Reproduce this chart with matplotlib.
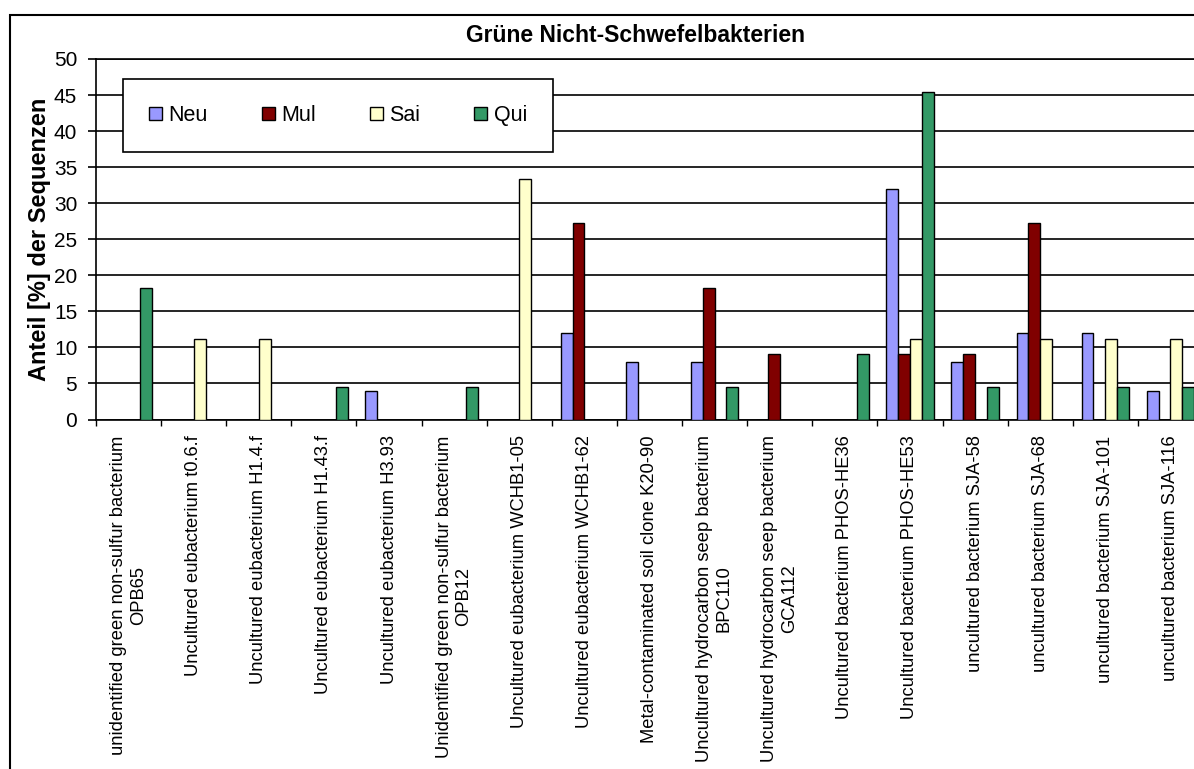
import numpy as np
import matplotlib
matplotlib.use("Agg")
import matplotlib.pyplot as plt
from matplotlib.patches import Patch, Rectangle

plt.rcParams['font.family'] = ['Liberation Sans', 'DejaVu Sans']

# clone names on the x axis
clones = [
    "unidentified green non-sulfur bacterium\nOPB65",
    "Uncultured eubacterium t0.6.f",
    "Uncultured eubacterium H1.4.f",
    "Uncultured eubacterium H1.43.f",
    "Uncultured eubacterium H3.93",
    "Unidentified green non-sulfur bacterium\nOPB12",
    "Uncultured eubacterium WCHB1-05",
    "Uncultured eubacterium WCHB1-62",
    "Metal-contaminated soil clone K20-90",
    "Uncultured hydrocarbon seep bacterium\nBPC110",
    "Uncultured hydrocarbon seep bacterium\nGCA112",
    "Uncultured bacterium PHOS-HE36",
    "Uncultured bacterium PHOS-HE53",
    "uncultured bacterium SJA-58",
    "uncultured bacterium SJA-68",
    "uncultured bacterium SJA-101",
    "uncultured bacterium SJA-116",
]

# share of sequences [%] per site
neu = [0, 0, 0, 0, 4, 0, 0, 12, 8, 8, 0, 0, 32, 8, 12, 12, 4]
mul = [0, 0, 0, 0, 0, 0, 0, 27.27, 0, 18.18, 9.09, 0, 9.09, 9.09, 27.27, 0, 0]
sai = [0, 11.11, 11.11, 0, 0, 0, 33.33, 0, 0, 0, 0, 0, 11.11, 0, 11.11, 11.11, 11.11]
qui = [18.18, 0, 0, 4.55, 0, 4.55, 0, 0, 0, 4.55, 0, 9.09, 45.45, 4.55, 0, 4.55, 4.55]

series = ["Neu", "Mul", "Sai", "Qui"]
colors = ["#9999FF", "#800000", "#FFFFCC", "#339966"]

W, H = 1194, 769
fig = plt.figure(figsize=(W / 100, H / 100), dpi=100)
fig.patch.set_facecolor("white")

# outer chart frame (runs off the right and bottom edge)
fig.patches.append(Rectangle((10 / W, -0.1), 1.2, 1.1 - 15 / H, transform=fig.transFigure,
                             fill=False, edgecolor="black", lw=1.5))

ax = fig.add_axes([96 / W, 1 - 419.5 / H, 1107 / W, 360.5 / H])

x = np.arange(len(clones))
bw = 1 / 5.5
for i, (vals, col) in enumerate(zip([neu, mul, sai, qui], colors)):
    ax.bar(x + (i - 1.5) * bw, vals, width=bw, color=col, edgecolor="black",
           linewidth=1.0, zorder=3)

ax.set_xlim(-0.5, len(clones) - 0.5)
ax.set_ylim(0, 50)
ax.set_yticks(np.arange(0, 51, 5))
ax.yaxis.grid(True, color="black", lw=1.2, zorder=0)
ax.set_axisbelow(True)

ax.spines["right"].set_visible(False)
for side in ["left", "bottom", "top"]:
    ax.spines[side].set_linewidth(1.2)
    ax.spines[side].set_color("black")

ax.set_xticks(x)
ax.set_xticklabels(clones, rotation=90, fontsize=13.2, multialignment="center")
ax.set_xticks(np.arange(-0.5, len(clones), 1), minor=True)
ax.tick_params(axis="x", which="major", length=0, pad=11.5)
ax.tick_params(axis="x", which="minor", length=4, width=1, direction="out")
ax.tick_params(axis="y", length=5.5, width=1.2, direction="out", labelsize=15, pad=8)

fig.text(636 / W, 1 - 36 / H, "Grüne Nicht-Schwefelbakterien", fontsize=16.5,
         fontweight="bold", ha="center", va="center")
fig.text(40 / W, 1 - 239 / H, "Anteil [%] der Sequenzen", fontsize=17,
         fontweight="bold", rotation=90, ha="center", va="center")

handles = [Patch(facecolor=c, edgecolor="black", lw=1) for c in colors]
leg = fig.legend(handles, series, loc="center", ncol=4, mode="expand",
                 bbox_to_anchor=(123 / W, 1 - 153 / H, 430 / W, 75 / H),
                 fontsize=15.5, handlelength=0.6, handleheight=0.6,
                 handletextpad=0.3, borderpad=1.2, borderaxespad=0,
                 fancybox=False, framealpha=1)
leg.get_frame().set_edgecolor("black")
leg.get_frame().set_linewidth(1.2)

fig.savefig("out.png", dpi=100)
